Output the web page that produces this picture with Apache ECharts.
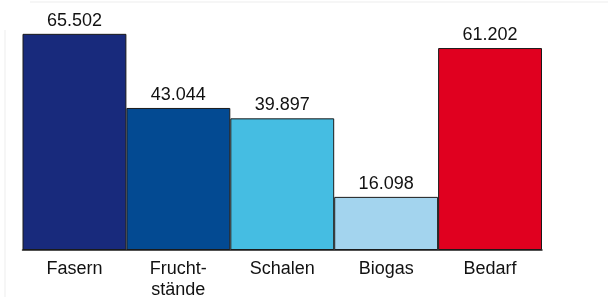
<!DOCTYPE html>
<html>
<head>
<meta charset="utf-8">
<script src="https://cdn.jsdelivr.net/npm/echarts@6/dist/echarts.min.js"></script>
<style>
html,body{margin:0;padding:0;background:#fff;overflow:hidden;}
#c{width:608px;height:297px;}
</style>
</head>
<body>
<div id="c"></div>
<script>
var categories = ["Fasern", "Frucht-\nstände", "Schalen", "Biogas", "Bedarf"];
var values = [65.502, 43.044, 39.897, 16.098, 61.202];
var barColors = ["#182a7c", "#034a92", "#45bde2", "#a3d4ee", "#e0001f"];

var chart = echarts.init(document.getElementById('c'), null, {renderer: 'canvas', width: 608, height: 297});
chart.setOption({
  animation: false,
  backgroundColor: '#ffffff',
  graphic: [
    {type: 'line', shape: {x1: 30, y1: 2, x2: 608, y2: 2}, style: {stroke: '#f6f6f6', lineWidth: 2}},
    {type: 'line', shape: {x1: 5, y1: 30, x2: 5, y2: 297}, style: {stroke: '#f6f6f6', lineWidth: 2}}
  ],
  grid: {left: 22.5, width: 519.5, top: 19, height: 231, containLabel: false, outerBoundsMode: 'none'},
  xAxis: {
    type: 'category',
    data: categories,
    axisLine: {show: true, lineStyle: {color: '#1a1a1a', width: 1.5}},
    axisTick: {show: false},
    axisLabel: {
      color: '#111',
      fontFamily: 'Liberation Sans, Arial, sans-serif',
      fontSize: 18,
      lineHeight: 21,
      margin: 9,
      interval: 0
    }
  },
  yAxis: {type: 'value', min: 0, max: 70, show: false},
  series: [{
    type: 'bar',
    barWidth: '100%',
    barCategoryGap: 0,
    data: values.map(function (v, i) {
      return {value: v, itemStyle: {color: barColors[i]}};
    }),
    itemStyle: {borderColor: '#1a1a1a', borderWidth: 1},
    label: {
      show: true,
      position: 'top',
      distance: 4,
      color: '#111',
      fontFamily: 'Liberation Sans, Arial, sans-serif',
      fontSize: 18,
      formatter: function (p) { return p.value.toFixed(3); }
    }
  }]
});
</script>
</body>
</html>
